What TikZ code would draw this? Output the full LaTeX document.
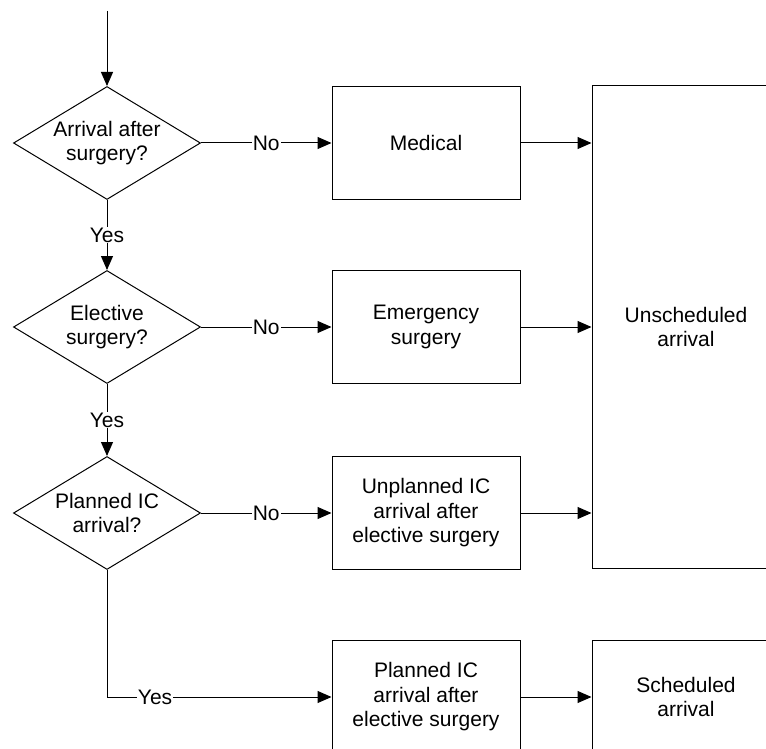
\documentclass[tikz,border=0pt]{standalone}
\usepackage{fontspec}
\setmainfont{Liberation Sans}
\usetikzlibrary{shapes.geometric,arrows.meta}
\begin{document}
\begin{tikzpicture}[x=1pt,y=-1pt,
  every node/.style={font=\fontsize{21}{24.5}\selectfont, align=center},
  flowline/.style={line width=1pt, draw=black},
  arrowline/.style={flowline, -{Triangle[length=14pt,width=12pt]}},
  decision/.style={draw, line width=1pt, diamond, aspect=1.655, inner sep=0pt,
    minimum width=187pt, minimum height=113pt},
  stepbox/.style={draw, line width=1pt, rectangle, inner sep=0pt,
    minimum width=188pt, minimum height=113pt},
  edgelabel/.style={fill=white, inner sep=1pt}]
\useasboundingbox (0,0) rectangle (766,749);
\begin{scope}
\clip (0,0) rectangle (766,749);

% decisions
\node[decision] (d1) at (107,143) {Arrival after\\surgery?};
\node[decision] (d2) at (107,327) {Elective\\surgery?};
\node[decision] (d3) at (107,513) {Planned IC\\arrival?};

% outcome boxes
\node[stepbox] (medical) at (426,143) {Medical};
\node[stepbox] (emergency) at (426,327) {Emergency\\surgery};
\node[stepbox] (unplanned) at (426,513) {Unplanned IC\\arrival after\\elective surgery};
\node[stepbox] (planned) at (426,697) {Planned IC\\arrival after\\elective surgery};

% arrival categories
\node[draw, line width=1pt, rectangle, inner sep=0pt,
  minimum width=188pt, minimum height=482pt] (unsched) at (686,327) {Unscheduled\\arrival};
\node[stepbox] (sched) at (686,697) {Scheduled\\arrival};

\coordinate (start) at (107,11);

% connectors
\draw[arrowline] (start) -- (d1.north);
\draw[arrowline] (d1.south) -- node[edgelabel] {Yes} (d2.north);
\draw[arrowline] (d2.south) -- node[edgelabel] {Yes} (d3.north);
\draw[arrowline] (d3.south) |- node[edgelabel, pos=0.607] {Yes} (planned.west);

\draw[arrowline] (d1.east) -- node[edgelabel] {No} (medical.west);
\draw[arrowline] (d2.east) -- node[edgelabel] {No} (emergency.west);
\draw[arrowline] (d3.east) -- node[edgelabel] {No} (unplanned.west);

\draw[arrowline] (medical.east) -- (medical.east -| unsched.west);
\draw[arrowline] (emergency.east) -- (emergency.east -| unsched.west);
\draw[arrowline] (unplanned.east) -- (unplanned.east -| unsched.west);
\draw[arrowline] (planned.east) -- (sched.west);
\end{scope}
\end{tikzpicture}
\end{document}
